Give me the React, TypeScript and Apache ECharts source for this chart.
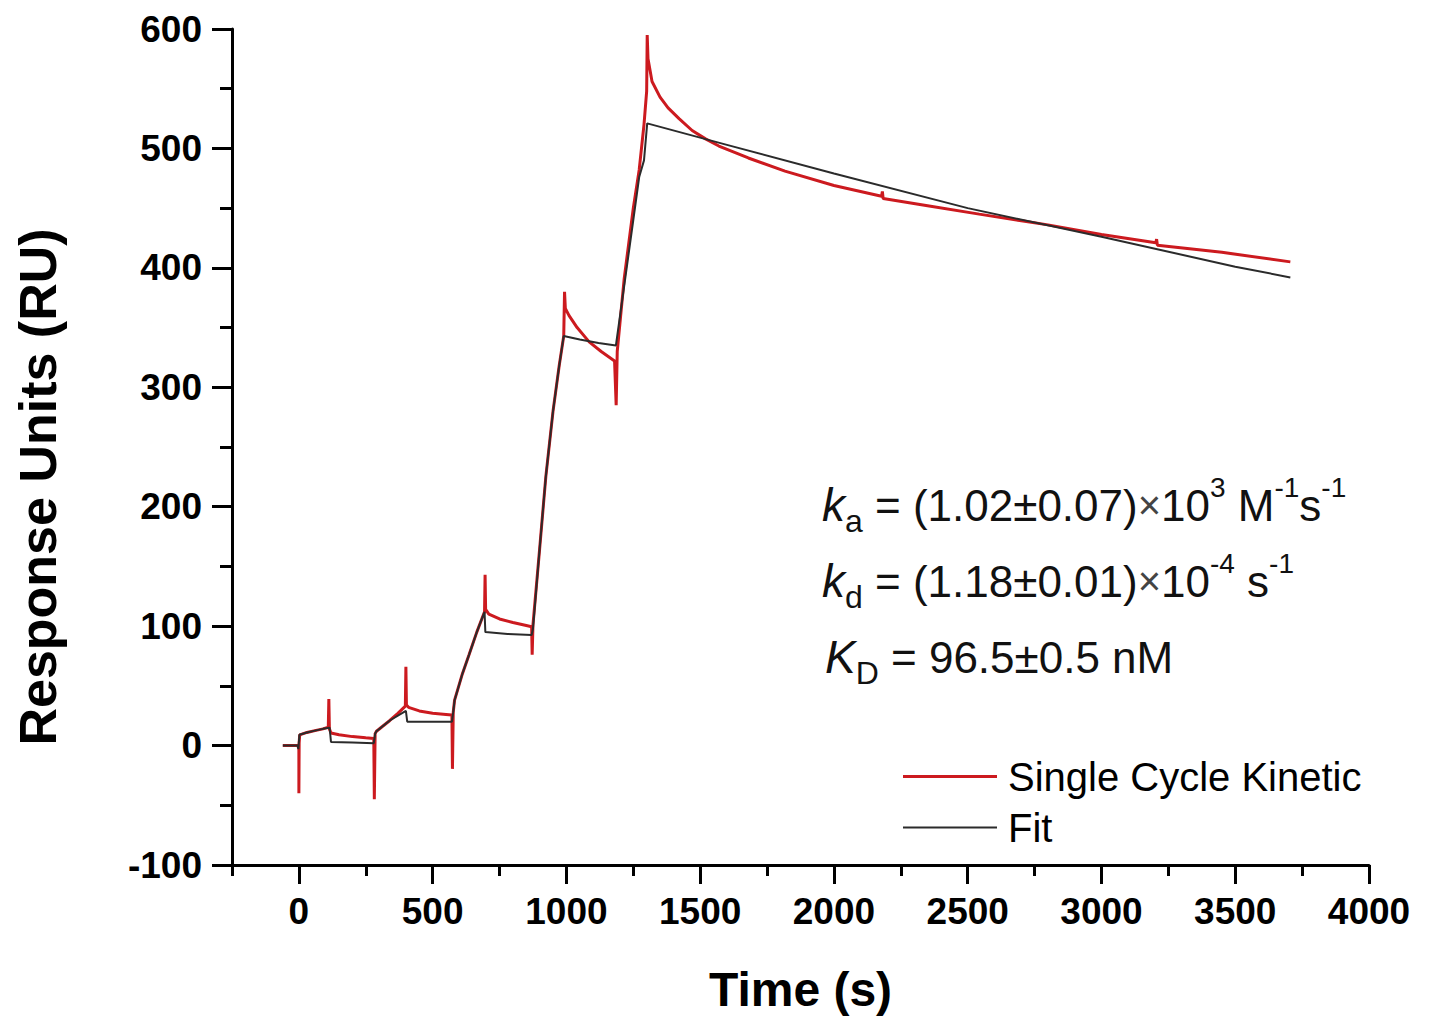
import React, { useEffect, useRef } from 'react';
import * as echarts from 'echarts';

// Single Cycle Kinetic sensorgram, [time (s), response (RU)]
const sckPoints: [number, number][] = [
  [-60, 0], [-5, 0], [0, -2], [0, -40], [1, 2], [3, 9], [30, 11], [60, 12.5], [90, 14], [110, 15.5],
  [112, 39], [114, 14], [120, 10.5], [150, 9], [200, 7.5], [250, 6.5], [280, 6], [282, -45], [285, 10],
  [290, 12], [340, 21], [370, 27], [398, 33], [400, 66], [402, 34], [410, 32], [450, 29], [500, 27],
  [550, 26], [572, 25.5], [574, -19.5], [577, 28], [582, 38], [611, 60], [636, 76], [665, 95], [694, 112],
  [696, 143], [698, 114], [710, 110], [750, 106], [800, 103], [850, 100.5], [870, 99.5], [872, 76],
  [875, 101], [900, 165], [923, 225], [950, 280], [973, 318], [990, 343], [993, 380], [996, 366],
  [1010, 360], [1040, 350], [1085, 338], [1130, 330], [1180, 322], [1186, 285], [1190, 330],
  [1216, 391], [1250, 450], [1272, 482], [1290, 520], [1300, 548], [1302, 595], [1305, 575],
  [1320, 556], [1350, 543], [1380, 534], [1421, 525], [1470, 515], [1520, 508], [1570, 502],
  [1680, 492], [1817, 481], [2000, 469], [2178, 460], [2181, 464], [2184, 458], [2350, 452],
  [2543, 445], [2800, 436], [3000, 428], [3203, 421], [3206, 424], [3209, 419], [3450, 413], [3706, 405],
];

// Fit curve, [time (s), response (RU)]
const fitPoints: [number, number][] = [
  [-60, 0], [-5, 0], [-2, -3], [2, 9], [30, 11], [60, 12.5], [90, 14], [115, 15], [120, 3], [200, 2.5],
  [280, 2], [285, 10], [290, 12], [340, 21], [370, 25], [400, 29], [405, 20], [500, 20], [572, 20],
  [577, 28], [582, 38], [611, 60], [636, 76], [665, 95], [694, 112], [697, 95], [780, 93.5], [870, 92.5],
  [875, 98], [900, 165], [923, 225], [950, 280], [973, 318], [990, 343], [1050, 340], [1120, 337],
  [1185, 335], [1216, 385], [1250, 440], [1272, 476], [1290, 490], [1302, 521], [1600, 503],
  [2000, 479], [2500, 450], [3000, 426], [3500, 401], [3706, 392],
];

const xMajorTicks = [0, 500, 1000, 1500, 2000, 2500, 3000, 3500, 4000];
const xMinorTicks = [-250, 250, 750, 1250, 1750, 2250, 2750, 3250, 3750];
const seriesNames = ['Single Cycle Kinetic', 'Fit'];
const seriesColors = ['#cc1a1f', '#2b2b2b'];
const annotationLines = [
  '{k|k}{sub|a}{t| = (1.02±0.07)}{x|×}{t|10}{sup|3}{t| M}{sup|-1}{t|s}{sup|-1}',
  '{k|k}{sub|d}{t| = (1.18±0.01)}{x|×}{t|10}{sup|-4}{t| s}{sup|-1}',
  '{k|K}{sub|D}{t| = 96.5±0.5 nM}',
];

const FONT = 'Arial, "Liberation Sans", Helvetica, sans-serif';

export default function App() {
  const ref = useRef<HTMLDivElement>(null);

  useEffect(() => {
    if (!ref.current) return;
    const chart = echarts.init(ref.current, undefined, { renderer: 'svg' });
    const axisLineStyle = { color: '#000', width: 3 };

    const rich = {
      k: { fontSize: 46, fontStyle: 'italic', fontFamily: FONT, fill: '#111', lineHeight: 64, verticalAlign: 'middle' },
      sub: { fontSize: 32, fontFamily: FONT, fill: '#111', lineHeight: 32, verticalAlign: 'bottom' },
      t: { fontSize: 44, fontFamily: FONT, fill: '#111', lineHeight: 64, verticalAlign: 'middle' },
      x: { fontSize: 40, fontFamily: FONT, fill: '#444', lineHeight: 64, verticalAlign: 'middle' },
      sup: { fontSize: 28, fontFamily: FONT, fill: '#111', lineHeight: 40, verticalAlign: 'top' },
    };
    const annY = [505, 581, 657];
    const annX = [822, 822, 825];

    const graphics: any[] = annotationLines.map((text, i) => ({
      type: 'text',
      x: annX[i],
      y: annY[i],
      style: { text, rich, align: 'left', verticalAlign: 'middle', fontFamily: FONT, fontSize: 44, fill: '#111' },
    }));
    graphics.push({
      type: 'text',
      x: 38,
      y: 487,
      rotation: Math.PI / 2,
      style: {
        text: 'Response Units (RU)',
        align: 'center',
        verticalAlign: 'middle',
        fontFamily: FONT,
        fontWeight: 'bold',
        fontSize: 52,
        fill: '#000',
      },
    });

    chart.setOption({
      animation: false,
      backgroundColor: '#ffffff',
      grid: { left: 232, right: 62, top: 29, bottom: 148, containLabel: false },
      xAxis: [
        {
          type: 'value',
          min: -250,
          max: 4000,
          position: 'bottom',
          name: 'Time (s)',
          nameLocation: 'middle',
          nameGap: 100,
          nameTextStyle: { fontFamily: FONT, fontWeight: 'bold', fontSize: 48, color: '#000' },
          axisLine: { show: true, onZero: false, lineStyle: axisLineStyle },
          axisTick: { show: true, inside: false, length: 19, lineStyle: axisLineStyle, customValues: xMajorTicks },
          axisLabel: {
            show: true,
            customValues: xMajorTicks,
            formatter: (v: number) => String(v),
            margin: 28,
            fontSize: 37,
            fontWeight: 'bold',
            fontFamily: FONT,
            color: '#000',
          },
          splitLine: { show: false },
        },
        {
          type: 'value',
          min: -250,
          max: 4000,
          position: 'bottom',
          axisLine: { show: false, onZero: false },
          axisTick: { show: true, inside: false, length: 11, lineStyle: axisLineStyle, customValues: xMinorTicks },
          axisLabel: { show: false },
          splitLine: { show: false },
        },
      ],
      yAxis: {
        type: 'value',
        min: -100,
        max: 600,
        interval: 100,
        axisLine: { show: true, onZero: false, lineStyle: axisLineStyle },
        axisTick: { show: true, inside: false, length: 20, lineStyle: axisLineStyle },
        minorTick: { show: true, splitNumber: 2, length: 12, lineStyle: axisLineStyle },
        axisLabel: { margin: 30, fontSize: 37, fontWeight: 'bold', fontFamily: FONT, color: '#000' },
        splitLine: { show: false },
        minorSplitLine: { show: false },
      },
      legend: {
        orient: 'vertical',
        left: 903,
        top: 751,
        padding: 0,
        itemGap: 0,
        itemWidth: 94,
        itemHeight: 14,
        symbolKeepAspect: true,
        data: [
          { name: seriesNames[0], icon: 'path://M0,0h94v3.2h-94z', itemStyle: { color: seriesColors[0] } },
          { name: seriesNames[1], icon: 'path://M0,0h94v2.2h-94z', itemStyle: { color: seriesColors[1] } },
        ],
        textStyle: { fontSize: 40, fontFamily: FONT, color: '#000', lineHeight: 51, padding: [0, 0, 0, 6] },
      },
      graphic: graphics,
      series: [
        {
          name: seriesNames[0],
          type: 'line',
          data: sckPoints,
          xAxisIndex: 0,
          symbol: 'none',
          showSymbol: false,
          lineStyle: { color: seriesColors[0], width: 3 },
          itemStyle: { color: seriesColors[0] },
          z: 2,
        },
        {
          name: seriesNames[1],
          type: 'line',
          data: fitPoints,
          xAxisIndex: 0,
          symbol: 'none',
          showSymbol: false,
          lineStyle: { color: seriesColors[1], width: 2 },
          itemStyle: { color: seriesColors[1] },
          z: 3,
        },
      ],
    });
    return () => chart.dispose();
  }, []);

  return <div ref={ref} style={{ position: 'absolute', left: 0, top: 0, width: 1431, height: 1018 }} />;
}
